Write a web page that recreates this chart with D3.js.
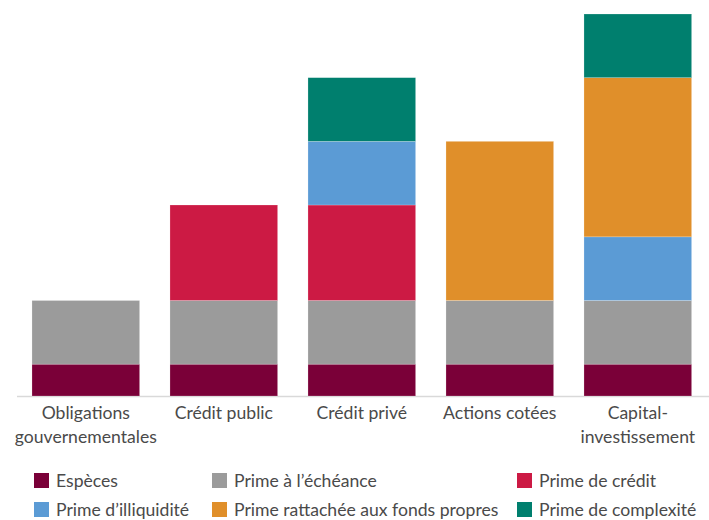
<!DOCTYPE html>
<html>
<head>
<meta charset="utf-8">
<script src="https://cdn.jsdelivr.net/npm/d3@7"></script>
<style>
  body { margin: 0; background: #fff; }
  text { font-family: Lato, "Open Sans", sans-serif; fill: #4a4a4a; }
</style>
</head>
<body>
<div id="vis"></div>
<script>
// categories and stacked values (arbitrary units)
var categories = [['Obligations', 'gouvernementales'], ['Crédit public'], ['Crédit privé'], ['Actions cotées'], ['Capital-', 'investissement']];
var seriesNames = ['Espèces', 'Prime à l\u2019échéance', 'Prime de crédit', 'Prime d\u2019illiquidité', 'Prime rattachée aux fonds propres', 'Prime de complexité'];
var especes     = [1, 1, 1, 1, 1];
var echeance    = [2, 2, 2, 2, 2];
var credit      = [0, 3, 3, 0, 0];
var illiquidite = [0, 0, 2, 0, 2];
var fondsPropres = [0, 0, 0, 5, 5];
var complexite  = [0, 0, 2, 0, 2];
var colors = ['#7a0038', '#9b9b9b', '#cc1a44', '#5b9bd5', '#e08f2a', '#007f6e'];

var width = 709, height = 520;
var baseline = 396;
var series = [especes, echeance, credit, illiquidite, fondsPropres, complexite];

var rows = categories.map(function (c, i) {
  var r = { key: i };
  seriesNames.forEach(function (s, j) { r[s] = series[j][i]; });
  return r;
});

var stacked = d3.stack().keys(seriesNames)(rows);

var x = d3.scaleBand()
  .domain(d3.range(categories.length))
  .range([16.8, 706.8])
  .paddingInner(0.22)
  .paddingOuter(0.11);

var y = d3.scaleLinear()
  .domain([0, 12])
  .range([baseline, 14]);

var svg = d3.select('#vis').append('svg')
  .attr('width', width)
  .attr('height', height);

svg.append('line')
  .attr('x1', 17).attr('x2', width)
  .attr('y1', baseline + 0.5).attr('y2', baseline + 0.5)
  .attr('stroke', '#d9d9d9')
  .attr('stroke-width', 1.5);

svg.selectAll('.layer')
  .data(stacked)
  .enter().append('g')
  .attr('class', 'layer')
  .attr('fill', function (d, i) { return colors[i]; })
  .selectAll('rect')
  .data(function (d) { return d.filter(function (p) { return p[1] > p[0]; }); })
  .enter().append('rect')
  .attr('x', function (d) { return x(d.data.key); })
  .attr('width', x.bandwidth())
  .attr('y', function (d) { return y(d[1]); })
  .attr('height', function (d) { return y(d[0]) - y(d[1]); })
  .attr('stroke', 'rgba(255,255,255,0.35)')
  .attr('stroke-width', 0.6);

var labels = svg.selectAll('.cat')
  .data(categories)
  .enter().append('text')
  .attr('class', 'cat')
  .attr('text-anchor', 'middle')
  .attr('font-size', 17.6)
  .attr('y', 419);

labels.selectAll('tspan')
  .data(function (d, i) { return d.map(function (t) { return { t: t, i: i }; }); })
  .enter().append('tspan')
  .attr('x', function (d) { return x(d.i) + x.bandwidth() / 2; })
  .attr('dy', function (d, k) { return k === 0 ? 0 : 24; })
  .text(function (d) { return d.t; });

// legend: 3 columns, 2 rows
var legendX = [34, 212, 517];
var legendY = [481, 510];

var legend = svg.selectAll('.legend')
  .data(seriesNames)
  .enter().append('g')
  .attr('class', 'legend')
  .attr('transform', function (d, i) {
    return 'translate(' + legendX[i % 3] + ',' + legendY[Math.floor(i / 3)] + ')';
  });

legend.append('rect')
  .attr('x', 0).attr('y', -8)
  .attr('width', 15).attr('height', 15)
  .attr('fill', function (d, i) { return colors[i]; });

legend.append('text')
  .attr('x', 22)
  .attr('y', 0)
  .attr('dy', '0.35em')
  .attr('font-size', 17.6)
  .text(function (d) { return d; });
</script>
</body>
</html>
